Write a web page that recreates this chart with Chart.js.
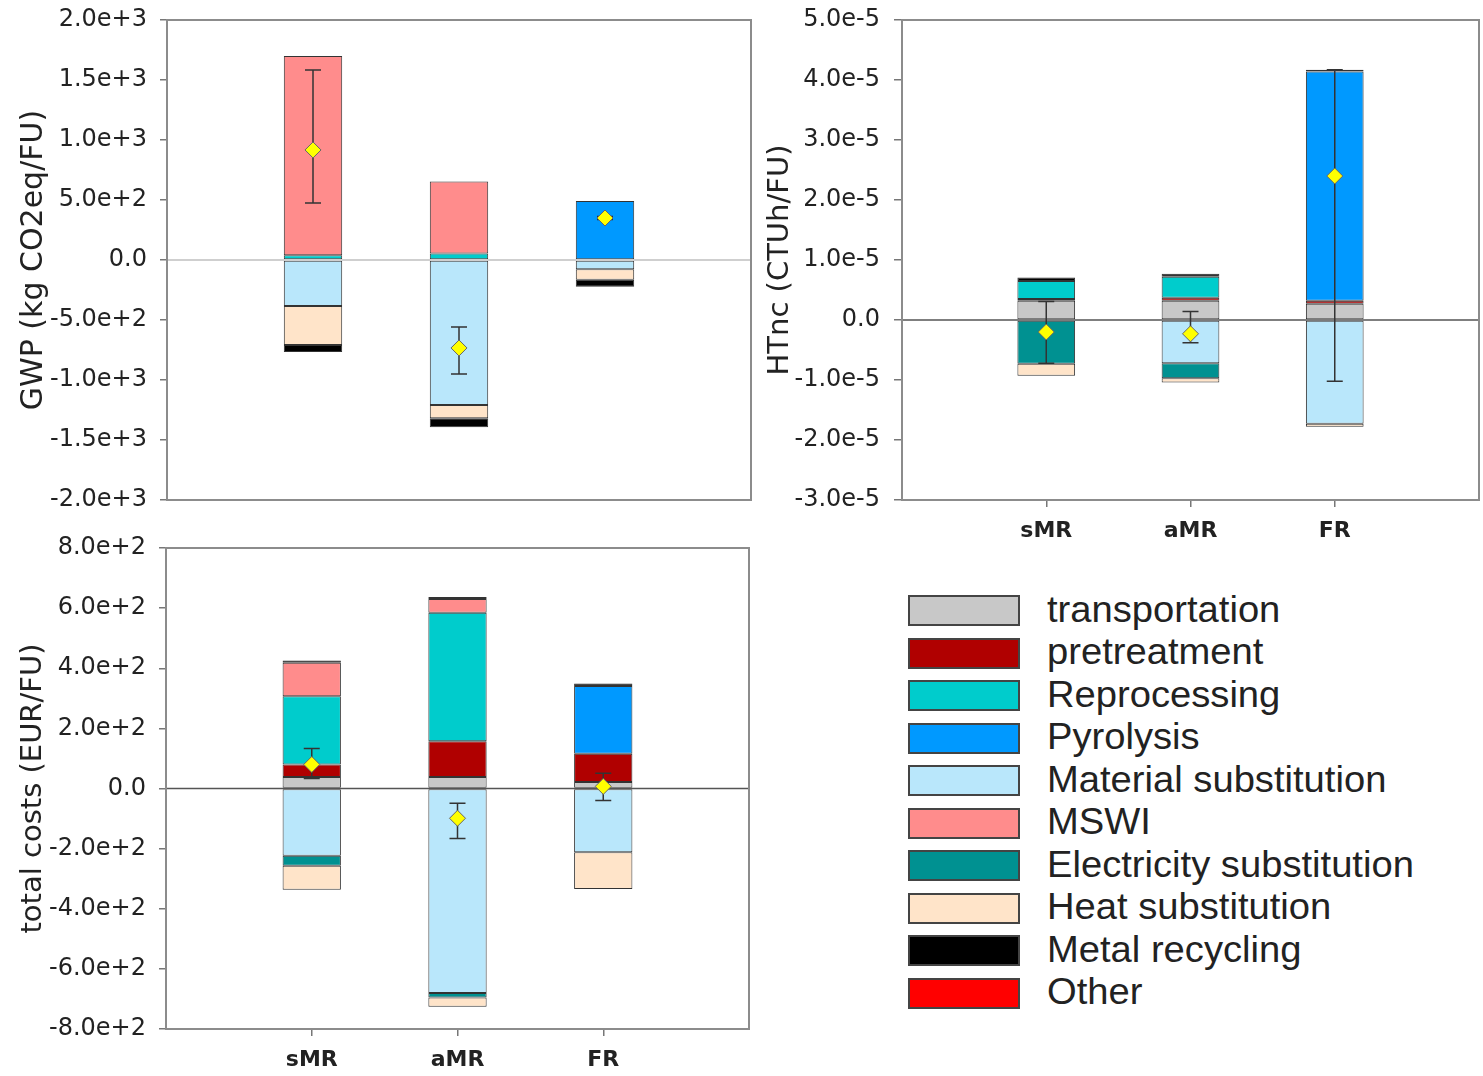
<!DOCTYPE html>
<html>
<head>
<meta charset="utf-8">
<script src="https://cdn.jsdelivr.net/npm/chart.js@4.4.0/dist/chart.umd.min.js"></script>
<style>
  html, body { margin: 0; padding: 0; background: #fff; overflow: hidden; }
  body { width: 1483px; height: 1076px; position: relative; font-family: 'Liberation Sans', Arial, sans-serif; }
  canvas { position: absolute; }
  #legend { position: absolute; left: 908px; top: 595px; }
  .row { position: absolute; left: 0; height: 31px; width: 570px; }
  .box { position: absolute; left: 0; top: 0; width: 108px; height: 27px; border: 2px solid #444; }
  .lbl { position: absolute; left: 139px; top: 50%; transform-origin: left center; transform: translateY(-52%) scaleX(1.06); font-size: 36px; color: #222; line-height: 1; white-space: nowrap; }
</style>
</head>
<body>
<canvas id="gwp" width="760" height="520" style="left:0;top:0"></canvas>
<canvas id="htnc" width="730" height="550" style="left:760px;top:0"></canvas>
<canvas id="cost" width="760" height="548" style="left:0;top:528px"></canvas>
<div id="legend"></div>
<script>
const categories = ['sMR', 'aMR', 'FR'];
const components = ['transportation', 'pretreatment', 'Reprocessing', 'Pyrolysis', 'Material substitution',
  'MSWI', 'Electricity substitution', 'Heat substitution', 'Metal recycling', 'Other'];
const componentColors = ['#c8c8c8', '#b00000', '#00cccc', '#0099ff', '#b9e7fb',
  '#ff8c8c', '#009191', '#ffe4c9', '#000000', '#ff0000'];

// one row per component (same order as components), columns sMR, aMR, FR
const gwpValues = [
  [null, null, null],
  [null, null, null],
  [40, 55, null],
  [null, null, 492],
  [-383, -1208, -78],
  [1660, 600, null],
  [null, null, null],
  [-325, -110, -87],
  [-58, -75, -57],
  [null, null, null]
];
const gwpMean = [917, -733, 350];
const gwpLow = [475, -950, 337];
const gwpHigh = [1583, -558, 363];

const htncValues = [
  [0.32e-5, 0.32e-5, 0.27e-5],
  [0.03e-5, 0.05e-5, 0.05e-5],
  [0.30e-5, 0.35e-5, null],
  [null, null, 3.82e-5],
  [null, -0.72e-5, -1.73e-5],
  [null, null, null],
  [-0.73e-5, -0.25e-5, null],
  [-0.20e-5, -0.07e-5, -0.05e-5],
  [0.06e-5, 0.05e-5, 0.03e-5],
  [null, null, null]
];
const htncMean = [-0.20e-5, -0.23e-5, 2.40e-5];
const htncLow = [-0.72e-5, -0.38e-5, -1.02e-5];
const htncHigh = [0.31e-5, 0.14e-5, 4.17e-5];

const costValues = [
  [38, 38, 22],
  [42, 119, 94],
  [227, 428, null],
  [null, null, 225],
  [-224, -680, -212],
  [111, 45, null],
  [-33, -15, null],
  [-80, -31, -122],
  [8, 7, 8],
  [null, null, null]
];
const costMean = [80, -99, 7];
const costLow = [33, -166, -40];
const costHigh = [133, -49, 51];

const AXIS_FONT = "'DejaVu Sans', 'Liberation Sans', sans-serif";

function fmtTick(v) {
  if (Math.abs(v) < 1e-12) return '0.0';
  return Number(v).toExponential(1);
}

const overlay = {
  id: 'overlay',
  beforeDatasetDraw(chart, args, opts) {
    const ds = chart.data.datasets[args.index];
    if (!ds.isMean) return;
    const { ctx, chartArea: a, scales: { x, y } } = chart;
    ctx.save();
    const y0 = y.getPixelForValue(0);
    ctx.strokeStyle = opts.zeroColor;
    ctx.lineWidth = opts.zeroWidth;
    ctx.beginPath();
    ctx.moveTo(a.left, y0);
    ctx.lineTo(a.right, y0);
    ctx.stroke();
    // error bars
    ctx.strokeStyle = '#333';
    ctx.lineWidth = 1.5;
    opts.low.forEach((lo, i) => {
      const px = x.getPixelForValue(i + 1);
      const p1 = y.getPixelForValue(lo);
      const p2 = y.getPixelForValue(opts.high[i]);
      ctx.beginPath();
      ctx.moveTo(px, p1); ctx.lineTo(px, p2);
      ctx.moveTo(px - 8, p1); ctx.lineTo(px + 8, p1);
      ctx.moveTo(px - 8, p2); ctx.lineTo(px + 8, p2);
      ctx.stroke();
    });
    ctx.restore();
  },
  afterDraw(chart) {
    const { ctx, chartArea: a } = chart;
    ctx.save();
    ctx.strokeStyle = '#8c8c8c';
    ctx.lineWidth = 2;
    ctx.strokeRect(a.left, a.top, a.right - a.left, a.bottom - a.top);
    ctx.restore();
  }
};

function makeChart(id, cfg) {
  const datasets = components.map((name, i) => ({
    label: name,
    data: [null, ...cfg.values[i], null],
    backgroundColor: componentColors[i],
    borderColor: '#333',
    borderWidth: 1,
    borderSkipped: false,
    barPercentage: 0.4,
    categoryPercentage: 1,
    stack: 'total',
    order: 1
  }));
  datasets.push({
    type: 'line',
    label: 'mean',
    isMean: true,
    stack: 'mean',
    data: [null, ...cfg.mean, null],
    showLine: false,
    pointStyle: 'rectRot',
    pointRadius: 8,
    pointBackgroundColor: '#ffff00',
    pointBorderColor: '#666',
    pointBorderWidth: 1,
    order: 0
  });

  return new Chart(document.getElementById(id), {
    type: 'bar',
    data: { labels: ['', ...categories, ''], datasets },
    options: {
      responsive: false,
      animation: false,
      layout: { padding: cfg.padding },
      plugins: {
        legend: { display: false },
        tooltip: { enabled: false },
        overlay: { low: cfg.low, high: cfg.high, zeroColor: cfg.zeroColor, zeroWidth: cfg.zeroWidth }
      },
      scales: {
        x: {
          offset: false,
          grid: {
            drawOnChartArea: false,
            offset: false,
            drawTicks: cfg.xLabels,
            tickLength: 7,
            lineWidth: 1.5,
            tickColor: (ctx) => (ctx.index === 0 || ctx.index === 4) ? 'rgba(0,0,0,0)' : '#777'
          },
          border: { color: '#8c8c8c', width: 2 },
          ticks: {
            display: cfg.xLabels,
            autoSkip: false,
            maxRotation: 0,
            padding: 11,
            color: '#222',
            font: { family: AXIS_FONT, size: 22, weight: 'bold' }
          },
          afterFit: (s) => { s.height = cfg.xHeight; }
        },
        y: {
          stacked: true,
          min: cfg.min,
          max: cfg.max,
          ticks: {
            stepSize: cfg.step,
            callback: fmtTick,
            padding: cfg.tickPad,
            color: '#222',
            font: { family: AXIS_FONT, size: 24 }
          },
          grid: { drawOnChartArea: false, tickLength: cfg.tickLen, tickColor: '#777', lineWidth: 1.5 },
          border: { color: '#8c8c8c', width: 2 },
          title: {
            display: true,
            text: cfg.title,
            color: '#222',
            font: { family: AXIS_FONT, size: cfg.titleSize },
            padding: { top: cfg.titlePad, bottom: 0 }
          },
          afterFit: (s) => {
            s.width = cfg.yWidth;
            s.paddingTop = 0;
            s.paddingBottom = 0;
          }
        }
      }
    },
    plugins: [overlay]
  });
}

makeChart('gwp', {
  values: gwpValues, mean: gwpMean, low: gwpLow, high: gwpHigh,
  min: -2000, max: 2000, step: 500,
  title: 'GWP (kg CO2eq/FU)', titlePad: 16, titleSize: 30,
  yWidth: 167, tickLen: 7, tickPad: 13,
  xLabels: false, xHeight: 0,
  padding: { top: 20, right: 8, bottom: 20, left: 0 },
  zeroColor: '#cfcfcf', zeroWidth: 2
});

makeChart('htnc', {
  values: htncValues, mean: htncMean, low: htncLow, high: htncHigh,
  min: -3e-5, max: 5e-5, step: 1e-5,
  title: 'HTnc (CTUh/FU)', titlePad: 3, titleSize: 29,
  yWidth: 142, tickLen: 8, tickPad: 14,
  xLabels: true, xHeight: 50,
  padding: { top: 20, right: 6, bottom: 0, left: 0 },
  zeroColor: '#555', zeroWidth: 1.5
});

makeChart('cost', {
  values: costValues, mean: costMean, low: costLow, high: costHigh,
  min: -800, max: 800, step: 200,
  title: 'total costs (EUR/FU)', titlePad: 16, titleSize: 29,
  yWidth: 166, tickLen: 7, tickPad: 13,
  xLabels: true, xHeight: 47,
  padding: { top: 20, right: 10, bottom: 0, left: 0 },
  zeroColor: '#555', zeroWidth: 1.5
});

// legend block
const legendEl = document.getElementById('legend');
components.forEach((name, i) => {
  const row = document.createElement('div');
  row.className = 'row';
  row.style.top = (i * 42.5) + 'px';
  const box = document.createElement('div');
  box.className = 'box';
  box.style.background = componentColors[i];
  const lbl = document.createElement('span');
  lbl.className = 'lbl';
  lbl.textContent = name;
  row.appendChild(box);
  row.appendChild(lbl);
  legendEl.appendChild(row);
});
</script>
</body>
</html>
